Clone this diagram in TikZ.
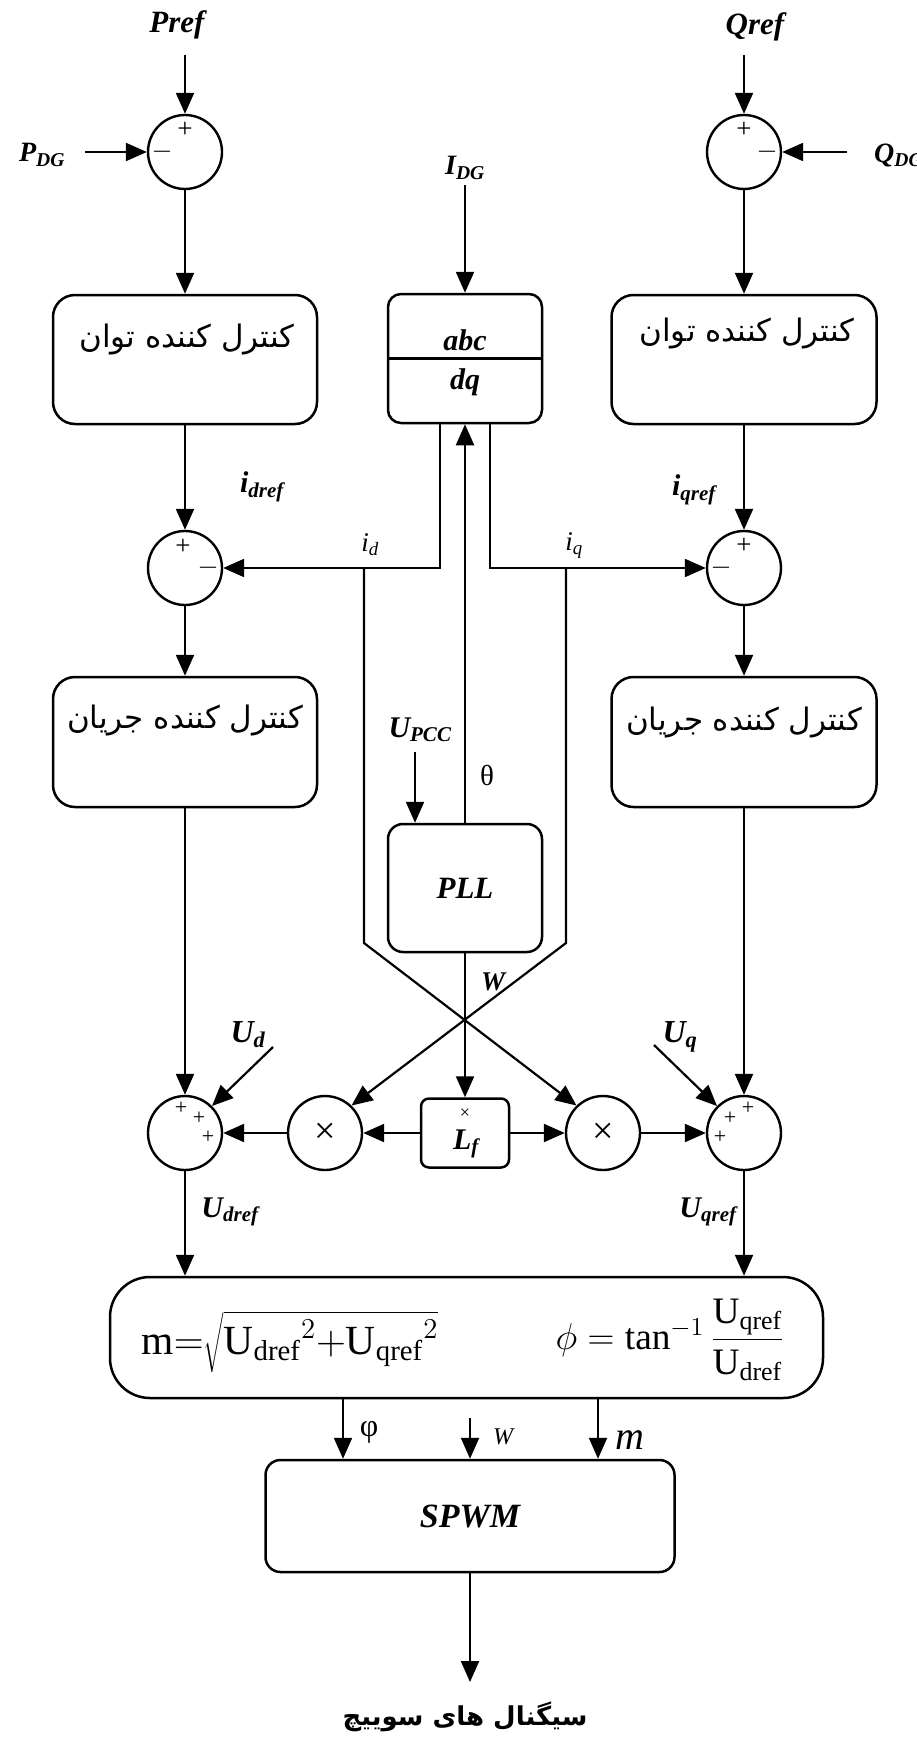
\RequirePackage{fix-cm}
\documentclass[tikz,border=0pt]{standalone}
\usepackage{fontspec}
\setmainfont{Liberation Serif}
\newfontfamily\fa[Script=Arabic]{DejaVu Sans}
\TeXXeTstate=1
\usetikzlibrary{arrows.meta}
\newcommand{\fs}[1]{\fontsize{#1}{#1}\selectfont}
\begin{document}
\begin{tikzpicture}[x=1pt,y=-1pt,
  ln/.style={line width=2.2pt},
  arr/.style={ln,-{Triangle[width=18pt,length=21pt]}},
  sumc/.style={circle,draw,line width=2.4pt,minimum size=74pt,inner sep=0pt},
  blk/.style={draw,line width=2.5pt,rounded corners=22pt,inner sep=0pt},
  bi/.style={inner sep=0pt,font=\fs{30}\bfseries\itshape},
  it/.style={inner sep=0pt,font=\fs{27}\itshape},
  up/.style={inner sep=0pt,font=\fs{30}},
  sg/.style={inner sep=0pt,font=\fs{27}},
  sgs/.style={inner sep=0pt,font=\fs{22}},
  fatxt/.style={inner sep=0pt,font=\fs{31}\fa},
]
\fill[white] (0,0) rectangle (917,1737);
\useasboundingbox (0,0) rectangle (917,1737);

% ---------- top row ----------
\node[bi,font=\fs{31}\bfseries\itshape] (pref) at (177,25) {Pref};
\coordinate (prefs) at (185,55);
\node[sumc] (s1) at (185,152) {};
\node[sg] (s1p) at (185,130) {+};
\node[sg] (s1m) at (162,152) {$-$};
\node[bi,font=\fs{28}\bfseries\itshape] (pdg) at (42,155) {P\textsubscript{DG}};
\coordinate (pdge) at (85,152);

\node[bi,font=\fs{31}\bfseries\itshape] (qref) at (755,27) {Qref};
\coordinate (qrefs) at (744,55);
\node[sumc] (s2) at (744,152) {};
\node[sg] (s2p) at (744,130) {+};
\node[sg] (s2m) at (767,152) {$-$};
\node[bi,font=\fs{28}\bfseries\itshape,anchor=west] (qdg) at (874,155) {Q\textsubscript{DG}};
\coordinate (qdge) at (847,152);

\node[bi,font=\fs{28}\bfseries\itshape] (idg) at (465,168) {I\textsubscript{DG}};
\coordinate (idgs) at (465,185);

% ---------- boxes row 1 ----------
\node[blk,minimum width=264pt,minimum height=129pt] (pbl) at (185,359.5) {};
\node[fatxt] (pblt) at (187,340) {\beginR کنترل کننده توان\endR};
\node[blk,minimum width=265pt,minimum height=129pt] (pbr) at (744,359.5) {};
\node[fatxt] (pbrt) at (747,334) {\beginR کنترل کننده توان\endR};
\node[blk,rounded corners=13pt,minimum width=154pt,minimum height=129pt] (abc) at (465,358.5) {};
\node[bi] (abct) at (465,340) {abc};
\node[bi] (dqt) at (465,382) {dq};

% ---------- second sums ----------
\node[sumc] (s3) at (185,568) {};
\node[sg] (s3p) at (183,547) {+};
\node[sg] (s3m) at (208,568) {$-$};
\node[sumc] (s4) at (744,568) {};
\node[sg] (s4p) at (744,546) {+};
\node[sg] (s4m) at (721,568) {$-$};
\node[bi] (idref) at (262,487) {i\textsubscript{dref}};
\node[bi] (iqref) at (694,490) {i\textsubscript{qref}};
\node[it] (idl) at (370,545) {i\textsubscript{d}};
\node[it] (iql) at (574,546) {i\textsubscript{q}};
\coordinate (idx) at (440,423);
\coordinate (iqx) at (490,423);
\coordinate (jd) at (364,568);
\coordinate (jd2) at (364,943);
\coordinate (jq) at (566,568);
\coordinate (jq2) at (566,943);

% ---------- current boxes ----------
\node[blk,minimum width=264pt,minimum height=130pt] (cbl) at (185,742) {};
\node[fatxt] (cblt) at (185,720) {\beginR کنترل کننده جریان\endR};
\node[blk,minimum width=265pt,minimum height=130pt] (cbr) at (744,742) {};
\node[fatxt] (cbrt) at (744,722) {\beginR کنترل کننده جریان\endR};

% ---------- PLL ----------
\node[blk,rounded corners=15pt,minimum width=154pt,minimum height=128pt,font=\fs{31}\bfseries\itshape] (pll) at (465,888) {PLL};
\node[up,font=\fs{29}] (th) at (487,775) {θ};
\node[bi] (upcc) at (420,730) {U\textsubscript{PCC}};
\coordinate (upccs) at (415,752);
\node[bi,font=\fs{27}\bfseries\itshape] (wl) at (493,982) {W};

% ---------- multiplier row ----------
\node[blk,rounded corners=8pt,minimum width=88pt,minimum height=69pt] (lf) at (465,1133) {};
\node[inner sep=0pt,font=\fs{18}] (lfx) at (465,1114) {×};
\node[bi] (lft) at (466,1144) {L\textsubscript{f}};
\node[sumc,font=\fs{38}] (mL) at (325,1133) {×};
\node[sumc,font=\fs{38}] (mR) at (603,1133) {×};
\node[sumc] (s5) at (185,1133) {};
\node[sgs] (s5a) at (181,1108) {+};
\node[sgs] (s5b) at (199,1118) {+};
\node[sgs] (s5c) at (208,1137) {+};
\node[sumc] (s6) at (744,1133) {};
\node[sgs] (s6a) at (748,1108) {+};
\node[sgs] (s6b) at (730,1118) {+};
\node[sgs] (s6c) at (720,1137) {+};
\node[bi,font=\fs{32}\bfseries\itshape] (ud) at (248,1035) {U\textsubscript{d}};
\coordinate (uds) at (273,1047);
\node[bi,font=\fs{32}\bfseries\itshape] (uq) at (680,1037) {U\textsubscript{q}};
\coordinate (uqs) at (654,1045);

% ---------- formula box ----------
\node[blk,rounded corners=40pt,minimum width=713pt,minimum height=121pt] (fb) at (466.5,1337.5) {};
\node[inner sep=0pt,scale=2.0] (fm) at (290,1342) {\huge $\mathrm{m}{=}\sqrt{{\mathrm{U}_{\mathrm{dref}}}^{2}{+}{\mathrm{U}_{\mathrm{qref}}}^{2}}$};
\node[inner sep=0pt,scale=1.8] (fp) at (670,1340) {\huge $\phi=\tan^{-1}\displaystyle\frac{\mathrm{U}_{\mathrm{qref}}}{\mathrm{U}_{\mathrm{dref}}}$};
\node[bi] (udref) at (230,1212) {U\textsubscript{dref}};
\node[bi] (uqref) at (708,1212) {U\textsubscript{qref}};

% ---------- SPWM ----------
\node[blk,rounded corners=15pt,minimum width=409pt,minimum height=112pt,font=\fs{34}\bfseries\itshape] (sp) at (470,1516) {SPWM};
\coordinate (phx) at (343,1398);
\coordinate (wx) at (470,1418);
\coordinate (mx) at (598,1398);
\node[up,font=\fs{32}] (phl) at (369,1432) {φ};
\node[inner sep=0pt,font=\fs{24}\itshape] (wl2) at (503,1437) {W};
\node[inner sep=0pt,font=\fs{40}\itshape] (ml) at (630,1440) {m};
\coordinate (oute) at (470,1682);
\node[inner sep=0pt,font=\fs{26}\fa\bfseries] (cap) at (465,1717) {\beginR سیگنال های سوییچ\endR};

% ---------- connectors ----------
\draw[arr] (prefs) -- (s1);
\draw[arr] (pdge) -- (s1);
\draw[arr] (qrefs) -- (s2);
\draw[arr] (qdge) -- (s2);
\draw[arr] (idgs) -- (abc);
\draw[arr] (s1) -- (pbl);
\draw[arr] (s2) -- (pbr);
\draw[ln] (abc.west) -- (abc.east);
\draw[arr] (pbl) -- (s3);
\draw[arr] (pbr) -- (s4);
\draw[arr] (idx) |- (s3);
\draw[arr] (iqx) |- (s4);
\draw[arr] (s3) -- (cbl);
\draw[arr] (s4) -- (cbr);
\draw[arr] (pll) -- (abc);
\draw[arr] (upccs) -- (upccs |- pll.north);
\draw[arr] (pll) -- (lf);
\draw[arr] (jd) -- (jd2) -- (mR.134);
\draw[arr] (jq) -- (jq2) -- (mL.46);
\draw[arr] (lf) -- (mL);
\draw[arr] (lf) -- (mR);
\draw[arr] (mL) -- (s5);
\draw[arr] (mR) -- (s6);
\draw[arr] (cbl) -- (s5);
\draw[arr] (cbr) -- (s6);
\draw[arr] (uds) -- (s5.45);
\draw[arr] (uqs) -- (s6.135);
\draw[arr] (s5) -- (s5 |- fb.north);
\draw[arr] (s6) -- (s6 |- fb.north);
\draw[arr] (phx) -- (phx |- sp.north);
\draw[arr] (wx) -- (wx |- sp.north);
\draw[arr] (mx) -- (mx |- sp.north);
\draw[arr] (sp) -- (oute);
\end{tikzpicture}
\end{document}
